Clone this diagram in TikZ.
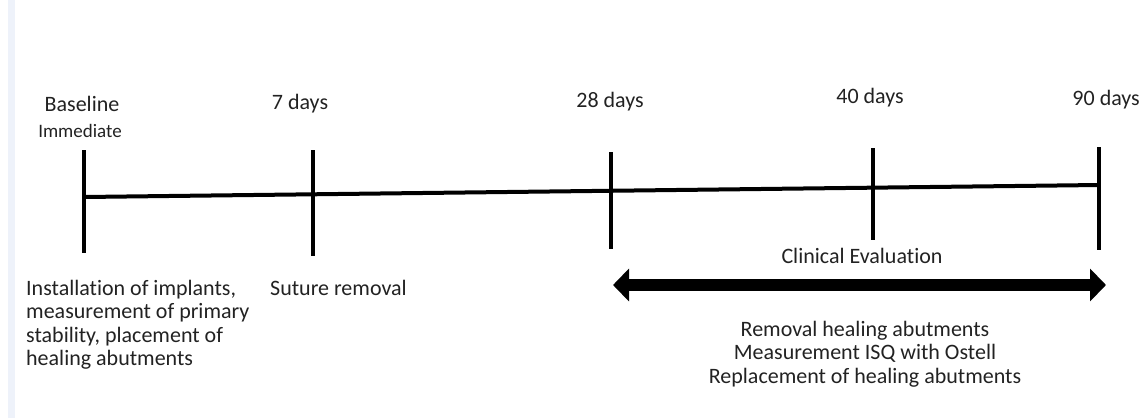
\documentclass[tikz,border=0pt]{standalone}
\usepackage{fontspec}
\setmainfont{Carlito}[Ligatures=NoCommon]
\usepackage{tikz}
\usetikzlibrary{arrows.meta}
\definecolor{txtgray}{HTML}{222222}
\definecolor{stripblue}{HTML}{EEF2FA}
\tikzstyle{lbl}=[inner sep=0pt, text=txtgray, font=\fontsize{22}{23.5}\selectfont]
\tikzstyle{tick}=[line width=4pt]
\tikzstyle{bigarrow}=[line width=12pt, {Triangle[length=16pt,width=32pt]}-{Triangle[length=16pt,width=32pt]}]

\begin{document}
\begin{tikzpicture}[x=1pt, y=-1pt]
        \useasboundingbox (0, 0) rectangle (1143, 418);
        \fill[stripblue] (8, 0) rectangle (15, 418);
        % time axis
        \coordinate (t0) at (84, 197);
        \coordinate (t4) at (1099, 185);
        \draw[tick] (t0) -- (t4);
        \coordinate (b0top) at (84, 150);
        \coordinate (b0bot) at (84, 253);
        \coordinate (b1top) at (313, 150);
        \coordinate (b1bot) at (313, 256);
        \coordinate (b2top) at (611, 152);
        \coordinate (b2bot) at (611, 249);
        \coordinate (b3top) at (873, 148);
        \coordinate (b3bot) at (873, 240);
        \coordinate (b4top) at (1099, 147);
        \coordinate (b4bot) at (1099, 250);
        \draw[tick] (b0top) -- (b0bot);
        \draw[tick] (b1top) -- (b1bot);
        \draw[tick] (b2top) -- (b2bot);
        \draw[tick] (b3top) -- (b3bot);
        \draw[tick] (b4top) -- (b4bot);
        \node[lbl] (base) at (82, 104) {Baseline};
        \node[lbl, font=\fontsize{19}{22}\selectfont] (imm) at (80, 131) {Immediate};
        \node[lbl] (d7) at (300, 104) {7 days};
        \node[lbl] (d28) at (610, 102) {28 days};
        \node[lbl] (d40) at (870, 98) {40 days};
        \node[lbl, anchor=east] (d90) at (1140, 100) {90 days};
        % clinical evaluation span
        \node[lbl] (clin) at (862, 256) {Clinical Evaluation};
        \coordinate (a1) at (613, 285);
        \coordinate (a2) at (1106, 285);
        \draw[bigarrow] (a1) -- (a2);
        \node[lbl, anchor=north west, align=left] (install) at (26, 280) {Installation of implants,\\measurement of primary\\stability, placement of\\healing abutments};
        \node[lbl, anchor=north west] (suture) at (270, 280) {Suture removal};
        \node[lbl, align=center] (tasks) at (865, 354) {Removal healing abutments\\Measurement ISQ with Ostell\\Replacement of healing abutments};
    \end{tikzpicture}
\end{document}
